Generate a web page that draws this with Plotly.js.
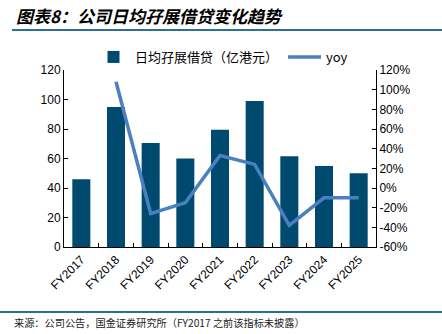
<!DOCTYPE html>
<html>
<head>
<meta charset="utf-8">
<script src="https://cdn.plot.ly/plotly-3.0.1.min.js"></script>
<style>html,body{margin:0;padding:0;background:#fff;}#chart{width:442px;height:334px;}</style>
</head>
<body>
<div id="chart"></div>
<script>
const categories = ["FY2017","FY2018","FY2019","FY2020","FY2021","FY2022","FY2023","FY2024","FY2025"];
const marginLoans = [46, 95, 70.5, 60, 79.5, 99, 61.5, 55, 50];
const yoy = [null, 108, -26, -15, 33, 24, -38, -10, -10];
const leftTicks = [0,20,40,60,80,100,120];
const rightTicks = [-60,-40,-20,0,20,40,60,80,100,120];

const barColor = "#004a70";
const lineColor = "#4a80bd";
const ruleColor = "#2d7097";

// plot area in px: left 64, right 376, top 70, bottom 247
const L=64, R=376, T=70, B=247;
const px2x = x => (x-L)/(R-L);
const px2y = y => (B-y)/(B-T);

const traces = [
  {type:"bar", x:categories, y:marginLoans, name:"日均孖展借贷（亿港元）",
   marker:{color:barColor}, width:0.52, yaxis:"y"},
  {type:"scatter", mode:"lines", x:categories, y:yoy, name:"yoy",
   line:{color:lineColor, width:3.5}, yaxis:"y2", connectgaps:false}
];

const fontFam = "Liberation Sans, Arial, sans-serif";
const cjk = "Noto Sans CJK SC, sans-serif";

const layout = {
  width:442, height:334,
  margin:{l:L, r:442-R, t:T, b:334-B},
  paper_bgcolor:"#fff", plot_bgcolor:"#fff",
  font:{family:fontFam, size:12, color:"#000"},
  showlegend:true,
  legend:{orientation:"h", x:px2x(92), xanchor:"left", y:px2y(57), yanchor:"middle",
          font:{family:cjk, size:13, color:"#000"}, itemwidth:33, tracegroupgap:0,
          bgcolor:"rgba(0,0,0,0)"},
  bargap:0.48,
  xaxis:{type:"category", tickangle:-45, showline:true, linecolor:"#000", linewidth:1,
         ticks:"inside", ticklen:4, tickson:"boundaries", tickcolor:"#000",
         showgrid:false, zeroline:false, tickfont:{family:fontFam, size:12}},
  yaxis:{range:[0,120], tickvals:leftTicks, ticks:"inside", ticklen:4, tickcolor:"#000",
         showline:true, linecolor:"#000", showgrid:false, zeroline:false,
         tickfont:{family:fontFam, size:12}},
  yaxis2:{range:[-60,120], tickvals:rightTicks, ticktext:rightTicks.map(v=>v+"%"),
          overlaying:"y", side:"right", ticks:"inside", ticklen:4, tickcolor:"#000",
          showline:true, linecolor:"#000", showgrid:false, zeroline:false,
          tickfont:{family:fontFam, size:12}},
  shapes:[
    {type:"line", xref:"paper", yref:"paper", x0:px2x(12), x1:px2x(442), y0:px2y(30), y1:px2y(30),
     line:{color:ruleColor, width:2}},
    {type:"line", xref:"paper", yref:"paper", x0:px2x(0), x1:px2x(442), y0:px2y(312), y1:px2y(312),
     line:{color:ruleColor, width:2}}
  ],
  annotations:[
    {text:"<b>图表8：公司日均孖展借贷变化趋势</b>", xref:"paper", yref:"paper",
     x:px2x(14), y:px2y(16), xanchor:"left", yanchor:"middle", showarrow:false,
     font:{family:cjk, size:17, color:"#000", style:"italic"}},
    {text:"来源：公司公告，国金证券研究所（FY2017 之前该指标未披露）", xref:"paper", yref:"paper",
     x:px2x(12), y:px2y(322), xanchor:"left", yanchor:"middle", showarrow:false,
     font:{family:cjk, size:10.2, color:"#222"}}
  ]
};

Plotly.newPlot("chart", traces, layout, {displayModeBar:false, staticPlot:true});
</script>
</body>
</html>
